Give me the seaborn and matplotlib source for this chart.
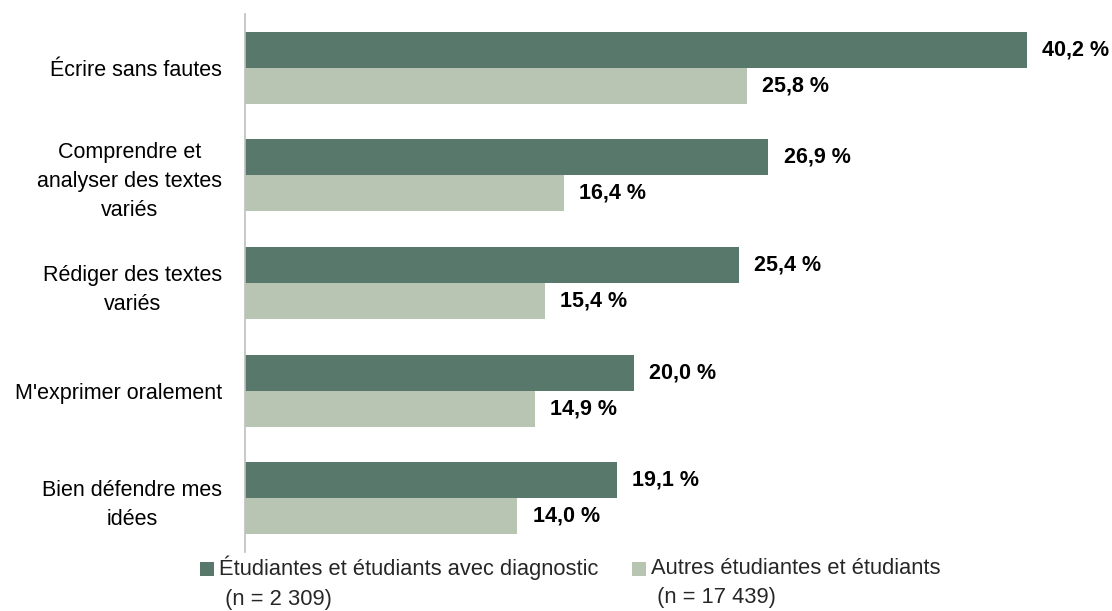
import matplotlib
matplotlib.use("Agg")
import matplotlib.pyplot as plt
import seaborn as sns
import pandas as pd

categories = ["Écrire sans fautes", "Comprendre et\nanalyser des textes\nvariés",
              "Rédiger des textes\nvariés", "M'exprimer oralement",
              "Bien défendre mes\nidées"]
series_names = ["Étudiantes et étudiants avec diagnostic\n (n = 2 309)",
                "Autres étudiantes et étudiants\n (n = 17 439)"]
diag_values = [40.2, 26.9, 25.4, 20.0, 19.1]
other_values = [25.8, 16.4, 15.4, 14.9, 14.0]
colors = ["#57786A", "#B8C5B3"]

sns.set_style("white")
plt.rcParams['font.family'] = ['Liberation Sans', 'DejaVu Sans']

df = pd.DataFrame({
    "cat": categories * 2,
    "serie": [series_names[0]] * 5 + [series_names[1]] * 5,
    "val": diag_values + other_values,
})

W, H = 1112, 611
fig = plt.figure(figsize=(W / 100, H / 100), dpi=100)
ax = fig.add_axes([245 / W, 1 - 552 / H, 856 / W, 538 / H])
sns.barplot(data=df, y="cat", x="val", hue="serie", order=categories,
            hue_order=series_names, palette=colors, orient="h", width=0.67,
            ax=ax, saturation=1, edgecolor="none", linewidth=0)

ax.set_xlim(0, 44)
ax.set_ylim(4.5, -0.5)
ax.set_xlabel("")
ax.set_ylabel("")
ax.set_xticks([])
for s in ["top", "right", "bottom"]:
    ax.spines[s].set_visible(False)
ax.spines["left"].set_color("#BFBFBF")
ax.spines["left"].set_linewidth(1.2)
ax.tick_params(axis="y", length=0, pad=16.5)
for lab in ax.get_yticklabels():
    lab.set_fontsize(15.5)
    lab.set_multialignment("center")
    lab.set_linespacing(1.5)
    lab.set_color("#000000")

for cont in ax.containers:
    labels = [f"{v:.1f} %".replace(".", ",") for v in cont.datavalues]
    ax.bar_label(cont, labels=labels, padding=11, fontsize=15.5, fontweight="bold",
                 color="#000000")

leg = ax.legend(loc="upper left", bbox_to_anchor=(200 / W, 1 - 556 / H),
                bbox_transform=fig.transFigure, ncol=2, frameon=False,
                prop={"size": 15.75},
                handlelength=0.62, handleheight=0.62, handletextpad=0.25,
                columnspacing=1.55, borderaxespad=0, borderpad=0)
for t in leg.get_texts():
    t.set_linespacing(1.5)
for h in leg.legend_handles:
    h.set_y(h.get_y() + 10)

fig.savefig("out.png", dpi=100)
